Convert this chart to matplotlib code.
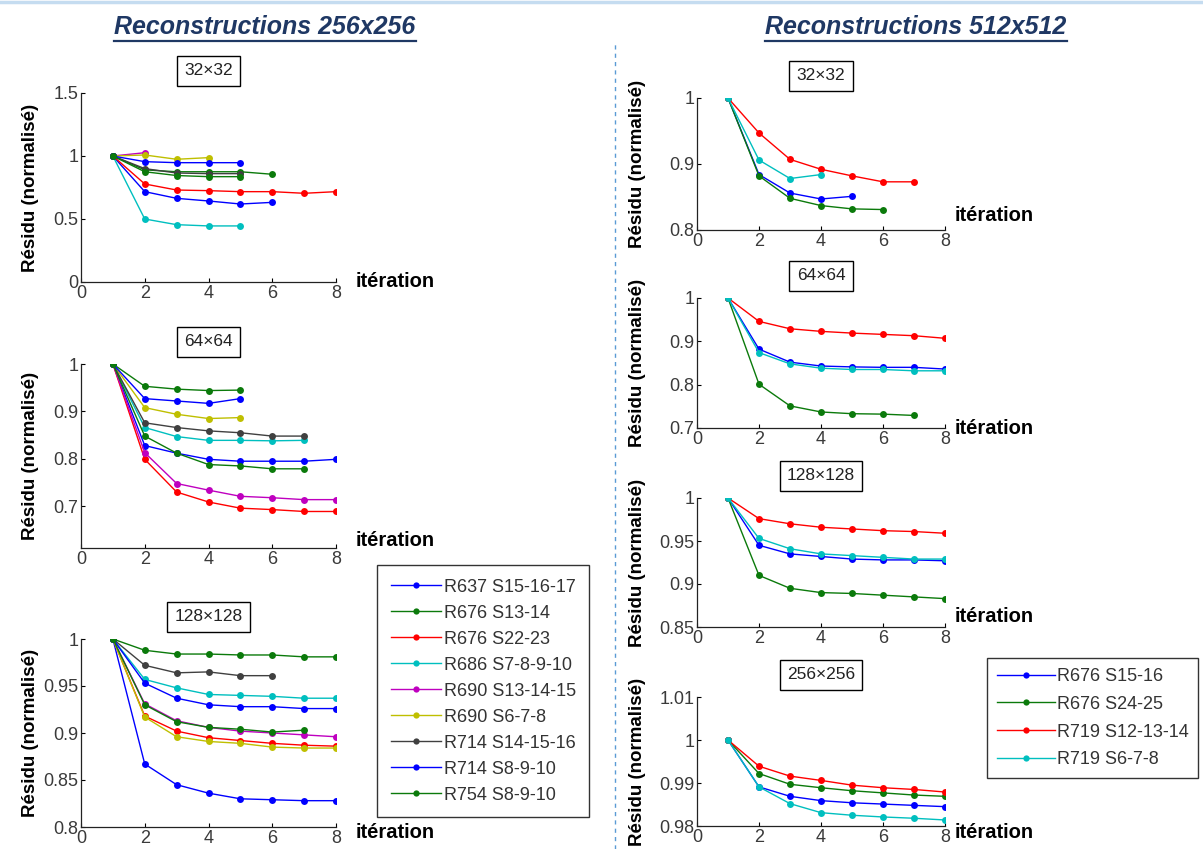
import numpy as np
import matplotlib
matplotlib.use('Agg')
import matplotlib.pyplot as plt
from matplotlib.lines import Line2D

# --- donnees : residu normalise par iteration ---
# reconstructions 256x256 (9 series)
labels_256 = ['R637 S15-16-17', 'R676 S13-14', 'R676 S22-23', 'R686 S7-8-9-10',
              'R690 S13-14-15', 'R690 S6-7-8', 'R714 S14-15-16', 'R714 S8-9-10',
              'R754 S8-9-10']
colors_256 = ['#0000FF', '#0B7A0B', '#FF0000', '#00BFBF', '#BF00BF',
              '#BFBF00', '#404040', '#0000FF', '#0B7A0B']

# 32x32
l32_r637 = [1, 0.717, 0.664, 0.643, 0.619, 0.632]
l32_r676a = [1, 0.89, 0.875, 0.875, 0.875, 0.855]
l32_r676b = [1, 0.778, 0.730, 0.725, 0.717, 0.717, 0.704, 0.717]
l32_r686 = [1, 0.50, 0.455, 0.445, 0.445]
l32_r690a = [1, 1.026]
l32_r690b = [1, 1.008, 0.974, 0.987]
l32_r714a = [1, 0.90, 0.865, 0.86, 0.86]
l32_r714b = [1, 0.955, 0.947, 0.947, 0.947]
l32_r754 = [1, 0.875, 0.845, 0.836, 0.836]

# 64x64
l64_r637 = [1, 0.828, 0.812, 0.799, 0.795, 0.795, 0.795, 0.799]
l64_r676a = [1, 0.953, 0.947, 0.944, 0.945]
l64_r676b = [1, 0.799, 0.730, 0.709, 0.696, 0.693, 0.689, 0.689]
l64_r686 = [1, 0.866, 0.847, 0.839, 0.839, 0.838, 0.839]
l64_r690a = [1, 0.813, 0.748, 0.734, 0.721, 0.718, 0.714, 0.714]
l64_r690b = [1, 0.908, 0.894, 0.885, 0.887]
l64_r714a = [1, 0.876, 0.866, 0.859, 0.855, 0.848, 0.848]
l64_r714b = [1, 0.927, 0.922, 0.917, 0.927]
l64_r754 = [1, 0.848, 0.812, 0.788, 0.785, 0.779, 0.779]

# 128x128
l128_r637 = [1, 0.867, 0.845, 0.836, 0.830, 0.829, 0.828, 0.828]
l128_r676a = [1, 0.988, 0.984, 0.984, 0.983, 0.983, 0.981, 0.981]
l128_r676b = [1, 0.918, 0.902, 0.895, 0.892, 0.889, 0.887, 0.886]
l128_r686 = [1, 0.957, 0.948, 0.941, 0.940, 0.939, 0.937, 0.937]
l128_r690a = [1, 0.931, 0.913, 0.906, 0.902, 0.900, 0.898, 0.896]
l128_r690b = [1, 0.917, 0.896, 0.891, 0.889, 0.885, 0.884, 0.884]
l128_r714a = [1, 0.972, 0.964, 0.965, 0.961, 0.961]
l128_r714b = [1, 0.953, 0.937, 0.930, 0.928, 0.928, 0.926, 0.926]
l128_r754 = [1, 0.930, 0.912, 0.906, 0.904, 0.901, 0.903]

# reconstructions 512x512 (4 series)
labels_512 = ['R676 S15-16', 'R676 S24-25', 'R719 S12-13-14', 'R719 S6-7-8']
colors_512 = ['#0000FF', '#0B7A0B', '#FF0000', '#00BFBF']

r32_r676a = [1, 0.884, 0.856, 0.847, 0.851]
r32_r676b = [1, 0.882, 0.848, 0.837, 0.832, 0.831]
r32_r719a = [1, 0.947, 0.907, 0.892, 0.882, 0.873, 0.873]
r32_r719b = [1, 0.906, 0.878, 0.884]

r64_r676a = [1, 0.882, 0.852, 0.843, 0.841, 0.840, 0.840, 0.836]
r64_r676b = [1, 0.801, 0.751, 0.737, 0.733, 0.732, 0.729]
r64_r719a = [1, 0.946, 0.929, 0.923, 0.919, 0.916, 0.913, 0.907]
r64_r719b = [1, 0.874, 0.848, 0.838, 0.835, 0.835, 0.832, 0.832]

r128_r676a = [1, 0.945, 0.935, 0.932, 0.929, 0.928, 0.928, 0.927]
r128_r676b = [1, 0.910, 0.895, 0.890, 0.889, 0.887, 0.885, 0.883]
r128_r719a = [1, 0.976, 0.970, 0.966, 0.964, 0.962, 0.961, 0.959]
r128_r719b = [1, 0.953, 0.941, 0.935, 0.933, 0.931, 0.929, 0.929]

r256_r676a = [1, 0.9891, 0.9869, 0.9859, 0.9854, 0.9851, 0.9848, 0.9845]
r256_r676b = [1, 0.9922, 0.9897, 0.9889, 0.9882, 0.9877, 0.9872, 0.9869]
r256_r719a = [1, 0.9939, 0.9916, 0.9906, 0.9895, 0.9889, 0.9885, 0.9879]
r256_r719b = [1, 0.9891, 0.9852, 0.9831, 0.9825, 0.9821, 0.9818, 0.9814]

left_panels = [
    ('32×32', [l32_r637, l32_r676a, l32_r676b, l32_r686, l32_r690a, l32_r690b,
               l32_r714a, l32_r714b, l32_r754], (0, 1.5), [0, 0.5, 1, 1.5], ['0', '0.5', '1', '1.5']),
    ('64×64', [l64_r637, l64_r676a, l64_r676b, l64_r686, l64_r690a, l64_r690b,
               l64_r714a, l64_r714b, l64_r754], (0.612, 1), [0.7, 0.8, 0.9, 1], ['0.7', '0.8', '0.9', '1']),
    ('128×128', [l128_r637, l128_r676a, l128_r676b, l128_r686, l128_r690a, l128_r690b,
                 l128_r714a, l128_r714b, l128_r754], (0.8, 1), [0.8, 0.85, 0.9, 0.95, 1],
     ['0.8', '0.85', '0.9', '0.95', '1']),
]
right_panels = [
    ('32×32', [r32_r676a, r32_r676b, r32_r719a, r32_r719b], (0.8, 1), [0.8, 0.9, 1], ['0.8', '0.9', '1']),
    ('64×64', [r64_r676a, r64_r676b, r64_r719a, r64_r719b], (0.7, 1), [0.7, 0.8, 0.9, 1],
     ['0.7', '0.8', '0.9', '1']),
    ('128×128', [r128_r676a, r128_r676b, r128_r719a, r128_r719b], (0.85, 1), [0.85, 0.9, 0.95, 1],
     ['0.85', '0.9', '0.95', '1']),
    ('256×256', [r256_r676a, r256_r676b, r256_r719a, r256_r719b], (0.98, 1.01), [0.98, 0.99, 1, 1.01],
     ['0.98', '0.99', '1', '1.01']),
]

plt.rcParams['font.family'] = ['Liberation Sans', 'DejaVu Sans']

W, H = 1203, 849
fig = plt.figure(figsize=(W / 100, H / 100), dpi=100)
fig.patch.set_facecolor('white')

# positions des axes en pixels (gauche, haut, droite, bas)
left_boxes = [(81, 93, 336, 282), (81, 364, 336, 548), (81, 639, 336, 827)]
right_boxes = [(697, 98, 945, 230), (697, 298, 945, 428), (697, 498, 945, 627), (697, 697, 945, 826)]
iter_offsets_left = [0.0, 0.04, -0.03]
iter_offsets_right = [0.11, 0.0, 0.08, -0.05]


def make_axes(box):
    x0, y0, x1, y1 = box
    return fig.add_axes([x0 / W, 1 - y1 / H, (x1 - x0) / W, (y1 - y0) / H])


def style_panel(ax, title, ylim, yticks, yticklabels, ylab_x, iter_x, iter_y):
    ax.set_xlim(0, 8)
    ax.set_ylim(*ylim)
    ax.set_xticks([0, 2, 4, 6, 8])
    ax.set_xticklabels(['0', '2', '4', '6', '8'])
    ax.set_yticks(yticks)
    ax.set_yticklabels(yticklabels)
    ax.spines['top'].set_visible(False)
    ax.spines['right'].set_visible(False)
    for sp in ['left', 'bottom']:
        ax.spines[sp].set_color('#222222')
        ax.spines[sp].set_linewidth(0.9)
    ax.tick_params(direction='in', length=3, labelsize=13, labelcolor='#3a3a3a', pad=2)
    ax.set_ylabel('Résidu (normalisé)', fontsize=13.5, fontweight='bold')
    ax.yaxis.set_label_coords(ylab_x, 0.5)
    ax.text(iter_x, iter_y, 'itération', transform=ax.transAxes, fontsize=14.5,
            fontweight='bold', ha='left', va='center', clip_on=False)
    ax.annotate(title, xy=(0.5, 1), xycoords='axes fraction', xytext=(0, 16),
                textcoords='offset points', ha='center', va='center', fontsize=12.5,
                color='#222222',
                bbox=dict(boxstyle='square,pad=0.42', fc='white', ec='black', lw=1))


# panneaux de gauche (256x256)
left_axes = []
for (title, series, ylim, yt, ytl), box, off in zip(left_panels, left_boxes, iter_offsets_left):
    ax = make_axes(box)
    for vals, c, lab in zip(series, colors_256, labels_256):
        x = np.arange(1, len(vals) + 1)
        ax.plot(x, vals, '-', color=c, lw=1, marker='o', ms=5, mew=0, label=lab)
    style_panel(ax, title, ylim, yt, ytl, -0.165, 1.075, off)
    left_axes.append(ax)

# panneaux de droite (512x512)
right_axes = []
for (title, series, ylim, yt, ytl), box, off in zip(right_panels, right_boxes, iter_offsets_right):
    ax = make_axes(box)
    for vals, c, lab in zip(series, colors_512, labels_512):
        x = np.arange(1, len(vals) + 1)
        ax.plot(x, vals, '-', color=c, lw=1, marker='o', ms=5, mew=0, label=lab)
    style_panel(ax, title, ylim, yt, ytl, -0.205, 1.04, off)
    right_axes.append(ax)

# legendes
h, l = left_axes[2].get_legend_handles_labels()
leg1 = fig.legend(h, l, loc='upper left', bbox_to_anchor=(377 / W, 1 - 565 / H),
                  fontsize=13, labelspacing=0.5, handlelength=2.8, handletextpad=0.15,
                  borderpad=0.75, borderaxespad=0, frameon=True, fancybox=False,
                  markerscale=0.9)
leg1.get_frame().set_edgecolor('black')
leg1.get_frame().set_linewidth(1)
for t in leg1.get_texts():
    t.set_color('#333333')

h, l = right_axes[3].get_legend_handles_labels()
leg2 = fig.legend(h, l, loc='upper left', bbox_to_anchor=(987 / W, 1 - 658 / H),
                  fontsize=13, labelspacing=0.6, handlelength=3.2, handletextpad=0.1,
                  borderpad=0.55, borderaxespad=0, frameon=True, fancybox=False,
                  markerscale=0.9)
leg2.get_frame().set_edgecolor('black')
leg2.get_frame().set_linewidth(1)
for t in leg2.get_texts():
    t.set_color('#333333')

# titres en haut
hdr_kw = dict(fontsize=18, fontweight='bold', fontstyle='italic', color='#1F3864',
              ha='center', va='center')
t1 = fig.text(265 / W, 1 - 27 / H, 'Reconstructions 256x256', **hdr_kw)
t2 = fig.text(916 / W, 1 - 27 / H, 'Reconstructions 512x512', **hdr_kw)

# soulignement des titres
fig.canvas.draw()
for t in (t1, t2):
    bb = t.get_window_extent()
    yline = (bb.y0 - 2) / H
    fig.add_artist(Line2D([bb.x0 / W, bb.x1 / W], [yline, yline], color='#1F3864', lw=1.6))

# bordure du haut et separateur vertical
fig.add_artist(Line2D([0, 1], [1 - 2 / H, 1 - 2 / H], color='#C5DCF0', lw=2.5))
fig.add_artist(Line2D([615 / W, 615 / W], [0, 1 - 42 / H], color='#5B9BD5', lw=1,
                      linestyle=(0, (3, 3))))

fig.savefig('out.png', dpi=100)
